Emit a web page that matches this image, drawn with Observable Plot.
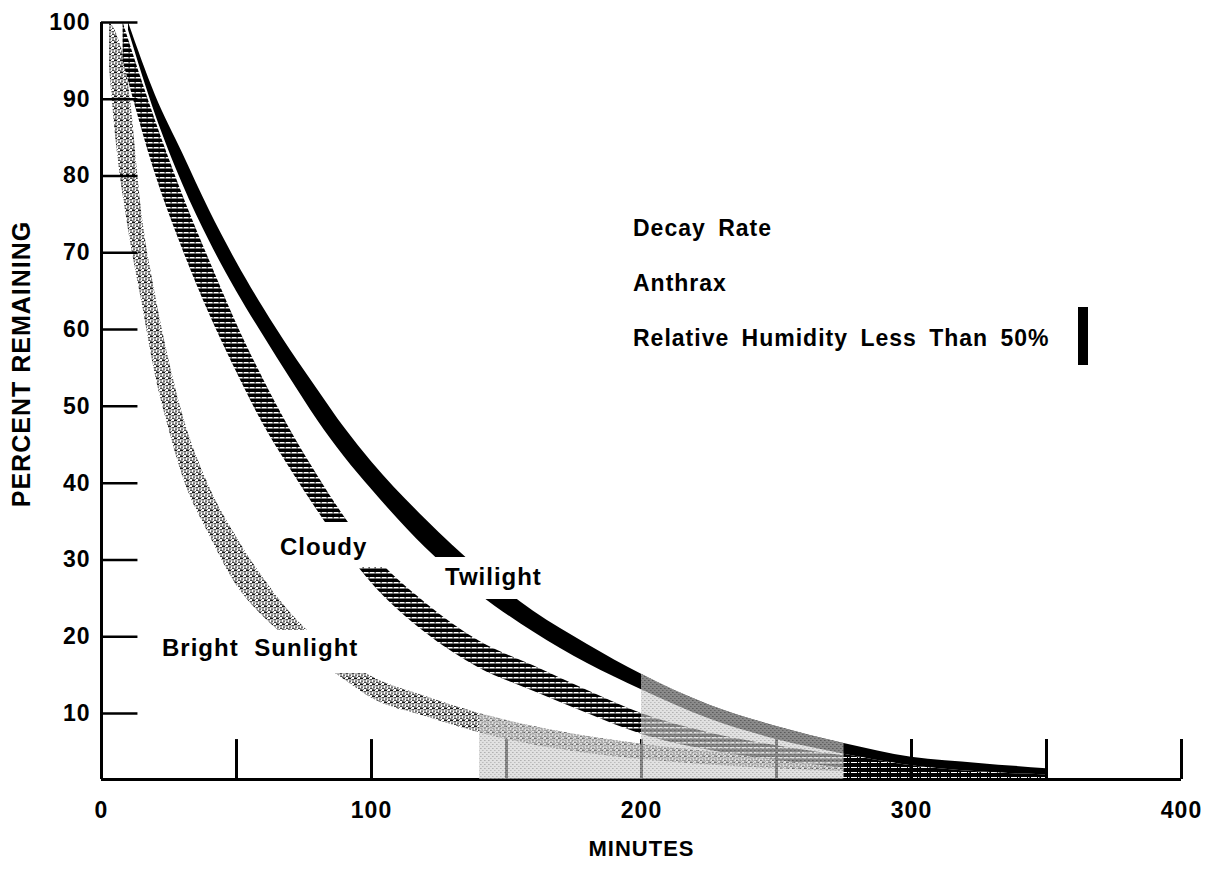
<!DOCTYPE html>
<html>
<head>
<meta charset="utf-8">
<script src="https://cdn.jsdelivr.net/npm/d3@7"></script>
<script src="https://cdn.jsdelivr.net/npm/@observablehq/plot@0.6"></script>
<style>
html,body{margin:0;padding:0;background:#fff;}
#wrap{position:relative;width:1206px;height:875px;overflow:hidden;font-family:"Liberation Sans",Arial,Helvetica,sans-serif;font-weight:bold;color:#000;}
#chart svg text{letter-spacing:1px;}
.cut{position:absolute;background:#fff;}
.lab{position:absolute;white-space:nowrap;line-height:1;}
.band{font-size:24px;letter-spacing:1px;word-spacing:8px;}
.leg{font-size:23px;letter-spacing:1px;word-spacing:5px;left:633px;}
#bar{position:absolute;left:1078px;top:307px;width:10px;height:58px;background:#000;}
</style>
</head>
<body>
<svg width="0" height="0" style="position:absolute">
  <defs>
    <pattern id="sunTex" width="6" height="6" patternUnits="userSpaceOnUse">
      <rect x="0" y="0" width="3" height="1.3" fill="#111"/>
      <rect x="3.5" y="1.2" width="2.5" height="1.2" fill="#222"/>
      <rect x="1" y="2.5" width="2" height="1.2" fill="#333"/>
      <rect x="4" y="3.6" width="2" height="1.2" fill="#111"/>
      <rect x="0" y="4.5" width="2.5" height="1.2" fill="#222"/>
      <rect x="2.8" y="5" width="1" height="1" fill="#555"/>
    </pattern>
    <pattern id="cloudTex" width="6" height="5" patternUnits="userSpaceOnUse">
      <rect width="6" height="5" fill="#000"/>
      <rect x="0" y="2" width="6" height="1.5" fill="#fff"/>
      <rect x="2.6" y="2" width="1" height="1.5" fill="#000"/>
    </pattern>
    <pattern id="mergeTex" width="10" height="5" patternUnits="userSpaceOnUse">
      <rect width="10" height="5" fill="#000"/>
      <rect x="1" y="2" width="6" height="1" fill="#fff"/>
      <rect x="8" y="2" width="1.4" height="1" fill="#fff"/>
    </pattern>
    <pattern id="hazeTex" width="4" height="4" patternUnits="userSpaceOnUse">
      <rect width="4" height="4" fill="#d2d2d2"/>
      <rect x="0" y="0" width="1.6" height="1" fill="#888"/>
      <rect x="2" y="2" width="1.6" height="1" fill="#999"/>
    </pattern>
  </defs>
</svg>
<div id="wrap">
  <div id="chart"></div>
  <div class="cut" style="left:318px;top:522px;width:74px;height:45px"></div>
  <div class="cut" style="left:428px;top:557px;width:92px;height:42px"></div>
  <div class="cut" style="left:272px;top:630px;width:96px;height:43px"></div>
  <div class="lab band" style="left:280px;top:535px">Cloudy</div>
  <div class="lab band" style="left:445px;top:565px">Twilight</div>
  <div class="lab band" style="left:162px;top:636px">Bright Sunlight</div>
  <div class="lab leg" style="top:217px">Decay Rate</div>
  <div class="lab leg" style="top:272px">Anthrax</div>
  <div class="lab leg" style="top:327px">Relative Humidity Less Than 50%</div>
  <div id="bar"></div>
</div>
<script>
// ---- data ----
const xDomain = [0, 400];
const yDomain = [1.4, 100];
const xTicks = [50, 100, 150, 200, 250, 300, 350, 400];
const xLabels = [0, 100, 200, 300, 400];
const yTicks = [10, 20, 30, 40, 50, 60, 70, 80, 90, 100];

const sunMinutes = [3, 5, 10, 15, 20, 25, 30, 40, 50, 60, 70, 80, 90, 100, 120, 140, 160, 180, 200, 225, 250, 275];
const sunUpper   = [100, 99, 92, 75, 64.5, 56, 49, 39.5, 33, 27.6, 23.1, 19.6, 17.0, 14.8, 12.2, 10.0, 8.3, 7.0, 6.0, 5.0, 4.3, 3.7];
const sunLower   = [94, 86, 73, 63.5, 54, 47, 41, 33.2, 26.7, 22.6, 19.5, 16.8, 14.4, 12.0, 9.6, 7.5, 5.9, 4.8, 4.0, 3.3, 2.8, 2.4];

const cloudMinutes = [8, 20, 30, 40, 50, 60, 70, 80, 90, 100, 120, 140, 160, 180, 200, 225, 250, 275];
const cloudUpper   = [100, 87.2, 77.6, 69, 60.8, 53.5, 46.9, 41, 35.6, 31, 24.4, 19.4, 16.2, 13, 10, 7.5, 5.8, 4.5];
const cloudLower   = [95, 80.2, 70.5, 62, 54.5, 47.6, 41.8, 36.4, 31.4, 27, 20.5, 15.9, 12.9, 10, 7.3, 5.2, 3.9, 2.9];

const twiMinutes = [10, 20, 30, 40, 50, 60, 70, 80, 90, 100, 120, 140, 160, 180, 200, 225, 250, 275, 300, 325, 350];
const twiUpper   = [100, 90.5, 83, 75.5, 68.8, 62.8, 57.3, 52.2, 47.2, 42.8, 35.3, 28.8, 23.3, 19.0, 15.1, 11.1, 8.3, 6.1, 4.3, 3.5, 2.8];
const twiLower   = [99, 88, 79, 71.5, 65, 59.2, 53.6, 48.2, 43.4, 39.2, 31.6, 25.5, 20.6, 16.5, 13.1, 9.3, 6.6, 4.7, 3.2, 2.4, 2.0];

// faded (screened) zone of the printed figure, in minutes
const fadeStart = 140, fadeStep = 200, fadeEnd = 275;

// ---- tables ----
const rows = (m, up, lo) => m.map((x, i) => ({minute: x, upper: up[i], lower: lo[i]}));
const sunlight = rows(sunMinutes, sunUpper, sunLower);
const cloudy = rows(cloudMinutes, cloudUpper, cloudLower);
const twilight = rows(twiMinutes, twiUpper, twiLower);
const hazeLow = sunlight.filter(d => d.minute >= fadeStart && d.minute <= fadeStep);
const hazeHigh = twilight.filter(d => d.minute >= fadeStep && d.minute <= fadeEnd);
const merged = twilight.filter(d => d.minute >= fadeEnd);

const curve = "monotone-x";
const bold = {fontWeight: "bold"};

const chart = Plot.plot({
  width: 1206,
  height: 875,
  marginLeft: 101,
  marginRight: 25,
  marginTop: 22,
  marginBottom: 96,
  x: {domain: xDomain, axis: null},
  y: {domain: yDomain, axis: null},
  style: {fontFamily: "'Liberation Sans', Arial, Helvetica, sans-serif", background: "#fff", color: "#000"},
  marks: [
    Plot.areaY(sunlight, {x: "minute", y1: "lower", y2: "upper", fill: "url(#sunTex)", curve}),
    Plot.areaY(cloudy, {x: "minute", y1: "lower", y2: "upper", fill: "url(#cloudTex)", curve}),
    Plot.areaY(twilight, {x: "minute", y1: "lower", y2: "upper", fill: "#000", curve}),
    Plot.ruleY([yDomain[0]], {x1: xDomain[0], x2: xDomain[1], stroke: "#000", strokeWidth: 3}),
    Plot.ruleX([xDomain[0]], {y1: yDomain[0], y2: yDomain[1], stroke: "#000", strokeWidth: 3}),
    Plot.ruleY(yTicks, {x1: xDomain[0], x2: 13.5, stroke: "#000", strokeWidth: 2.5}),
    Plot.ruleX(xTicks, {y1: yDomain[0], y2: 6.6, stroke: "#000", strokeWidth: 3}),
    Plot.areaY(hazeLow, {x: "minute", y1: yDomain[0], y2: "upper", fill: "url(#hazeTex)", fillOpacity: 0.66, curve}),
    Plot.areaY(hazeHigh, {x: "minute", y1: yDomain[0], y2: "upper", fill: "url(#hazeTex)", fillOpacity: 0.66, curve}),
    Plot.areaY(merged, {x: "minute", y1: yDomain[0], y2: "lower", fill: "url(#mergeTex)", curve}),
    Plot.ruleX(xTicks.filter(t => t > fadeEnd), {y1: yDomain[0], y2: 6.6, stroke: "#000", strokeWidth: 3}),
    Plot.text(yTicks, {x: xDomain[0], y: d => d, text: d => String(d), dx: -11, textAnchor: "end", fontSize: 23, ...bold}),
    Plot.text(xLabels, {x: d => d, y: yDomain[0], text: d => String(d), dy: 31, fontSize: 23, ...bold}),
    Plot.text(["MINUTES"], {frameAnchor: "bottom", text: d => d, dy: 76, fontSize: 22, ...bold}),
    Plot.text(["PERCENT REMAINING"], {frameAnchor: "left", text: d => d, textAnchor: "middle", dx: -80, dy: -37, rotate: -90, fontSize: 25, ...bold})
  ]
});
document.getElementById("chart").appendChild(chart);
</script>
</body>
</html>
